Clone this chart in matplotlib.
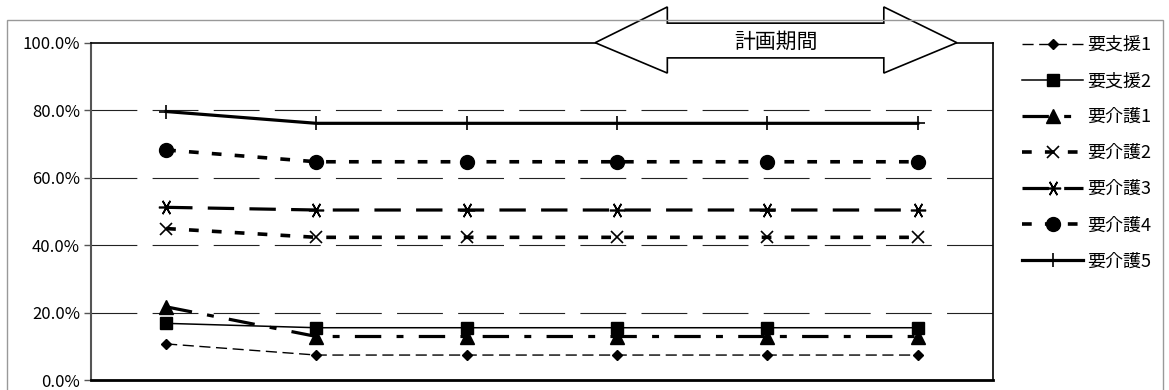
import numpy as np
import matplotlib
matplotlib.use("Agg")
import matplotlib.pyplot as plt
from matplotlib.patches import Polygon, Rectangle

plt.rcParams['font.family'] = ['Noto Sans CJK JP', 'DejaVu Sans']
plt.rcParams['lines.scale_dashes'] = False

# data (share of each care level, %)
labels = ["要支援1", "要支援2", "要介護1", "要介護2", "要介護3", "要介護4", "要介護5"]
shien1 = [10.7, 7.4, 7.4, 7.4, 7.4, 7.4]
shien2 = [16.8, 15.5, 15.5, 15.5, 15.5, 15.5]
kaigo1 = [21.7, 12.9, 12.9, 12.9, 12.9, 12.9]
kaigo2 = [44.9, 42.3, 42.3, 42.3, 42.3, 42.3]
kaigo3 = [51.2, 50.4, 50.4, 50.4, 50.4, 50.4]
kaigo4 = [68.2, 64.7, 64.7, 64.7, 64.7, 64.7]
kaigo5 = [79.6, 76.1, 76.1, 76.1, 76.1, 76.1]
yticks = [0, 20, 40, 60, 80, 100]
arrow_text = "計画期間"

series = [shien1, shien2, kaigo1, kaigo2, kaigo3, kaigo4, kaigo5]
styles = [
    dict(lw=1.0, ls=(0, (8, 4)), marker='D', ms=5),
    dict(lw=1.1, ls='-', marker='s', ms=8),
    dict(lw=2.3, ls=(0, (19, 11, 5, 11)), marker='^', ms=10),
    dict(lw=2.6, ls=(0, (7, 9.5)), marker='x', ms=9, mew=1.2),
    dict(lw=2.3, ls=(0, (19, 11)), marker=(6, 2, 90), ms=11, mew=1.2),
    dict(lw=2.6, ls=(0, (7, 9.5)), marker='o', ms=10),
    dict(lw=2.3, ls='-', marker='+', ms=10, mew=1.2),
]

fig = plt.figure(figsize=(11.69, 3.9), dpi=100)
ax = fig.add_axes([0.0778, 0.0256, 0.7716, 0.8649])

x = np.arange(len(shien1))
for vals, lab, st in zip(series, labels, styles):
    ax.plot(x, vals, color='black', label=lab, mfc='black', mec='black', **st)

ax.set_xlim(-0.5, len(x) - 0.5)
ax.set_ylim(0, 100)
ax.set_yticks(yticks)
ax.set_yticklabels([f"{v:.1f}%" for v in yticks], fontsize=12)
ax.set_xticks([])
ax.tick_params(axis='y', length=5, width=1, color='#555', pad=3)
for v in yticks[1:-1]:
    ax.axhline(v, color='#222', lw=0.8, ls=(0, (33, 11)), zorder=0)

ax.spines['left'].set_color('#555')
ax.spines['left'].set_linewidth(1.5)
ax.spines['bottom'].set_linewidth(2)
ax.spines['top'].set_linewidth(1.2)
ax.spines['right'].set_linewidth(1.2)

# outer chart border
fig.patches.append(Rectangle((7 / 1169, -0.05), 1156 / 1169, 1.05 - 20 / 390,
                             transform=fig.transFigure, fill=False,
                             edgecolor='#999', lw=1, zorder=0))

# double arrow for plan period (axes fraction coords)
xl, xbl, xbr, xr = 0.559, 0.639, 0.879, 0.960
yt, ys1, ys2, yb = 1.106, 1.058, 0.955, 0.910
pts = [(xl, 1.0), (xbl, yt), (xbl, ys1), (xbr, ys1), (xbr, yt), (xr, 1.0),
       (xbr, yb), (xbr, ys2), (xbl, ys2), (xbl, yb)]
ax.add_patch(Polygon(pts, closed=True, transform=ax.transAxes, facecolor='white',
                     edgecolor='black', lw=1.2, clip_on=False, zorder=10))
ax.text((xbl + xbr) / 2, 1.003, arrow_text, transform=ax.transAxes, ha='center',
        va='center', fontsize=15, zorder=11)

leg = ax.legend(loc='upper left', bbox_to_anchor=(1022 / 1169, 1 - 36 / 390),
                bbox_transform=fig.transFigure, frameon=False, fontsize=13,
                handlelength=3.4, handletextpad=0.2, labelspacing=1.0,
                borderpad=0, borderaxespad=0)

fig.savefig("out.png", dpi=100)
